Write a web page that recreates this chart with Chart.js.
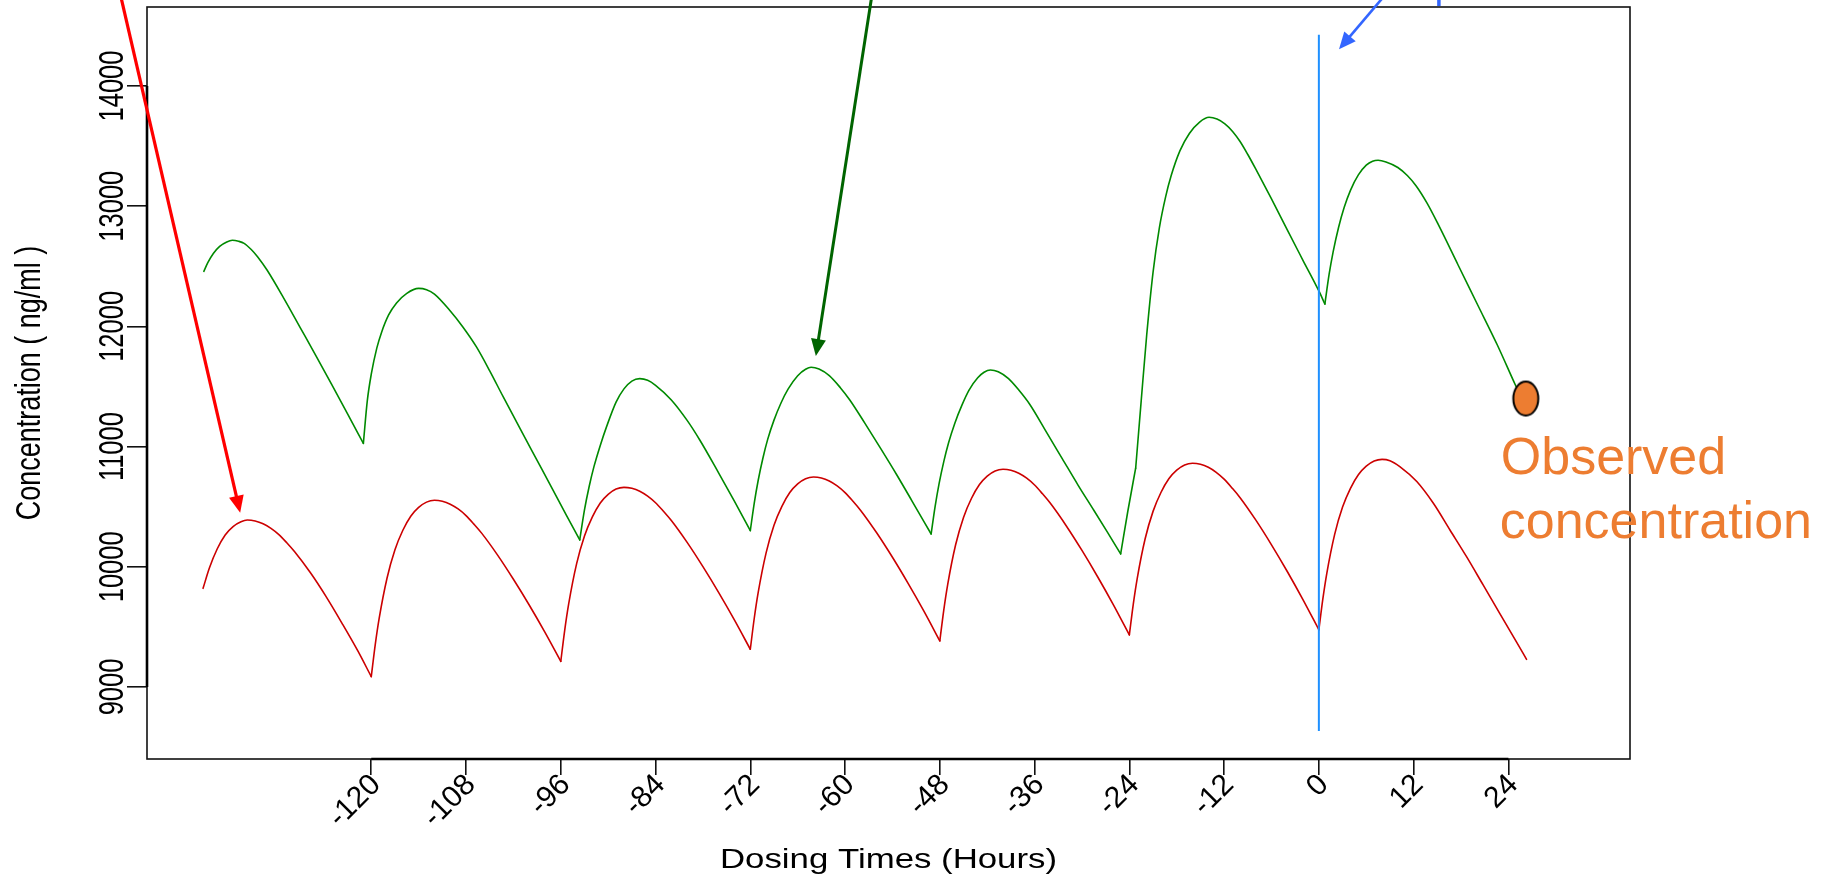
<!DOCTYPE html>
<html>
<head>
<meta charset="utf-8">
<script src="https://cdn.jsdelivr.net/npm/chart.js@4.4.1/dist/chart.umd.min.js"></script>
<style>
  html, body { margin: 0; padding: 0; background: #fff; overflow: hidden; }
  #wrap { width: 1824px; height: 875px; position: relative; }
</style>
</head>
<body>
<div id="wrap"><canvas id="c"></canvas></div>
<script>
// Population-predicted profile (red), hours relative to the last dose
const redHours = [
  -141.3, -140.5, -139.5, -138.5, -137.5, -136.5, -135.7, -134.7, -133.7, -132.7, -131.7, -130.7, -129.7, -127.7, -125.7, -123.7, -121.7,
  -120, -119.5, -119, -118, -117, -116, -115, -114, -113, -112, -111, -110, -109, -108, -107, -106, -104, -102, -100, -98,
  -96, -95.5, -95, -94, -93, -92, -91, -90, -89, -88, -87, -86, -85, -84, -83, -82, -80, -78, -76, -74,
  -72, -71.5, -71, -70, -69, -68, -67, -66, -65, -64, -63, -62, -61, -60, -59, -58, -56, -54, -52, -50,
  -48, -47.5, -47, -46, -45, -44, -43, -42, -41, -40, -39, -38, -37, -36, -35, -34, -32, -30, -28, -26,
  -24, -23.5, -23, -22, -21, -20, -19, -18, -17, -16, -15, -14, -13, -12, -11, -10, -8, -6, -4, -2,
  0, 0.5, 1, 2, 3, 4, 5, 6, 7, 8, 9, 10.25, 12.4, 14.5, 16.6, 18.7, 20.8, 22.9, 25, 26.3
];
const redConc = [
  9821, 9990, 10150, 10265, 10335, 10375, 10389, 10381, 10358, 10320, 10268, 10200, 10125, 9950, 9750, 9530, 9300,
  9086, 9350, 9570, 9907, 10142, 10304, 10421, 10494, 10538, 10553, 10545, 10521, 10481, 10426, 10355, 10278, 10097, 9896, 9682, 9454,
  9213, 9474, 9691, 10024, 10256, 10415, 10531, 10603, 10647, 10661, 10653, 10629, 10588, 10533, 10462, 10385, 10203, 10001, 9785, 9556,
  9314, 9572, 9787, 10116, 10346, 10503, 10618, 10690, 10733, 10747, 10739, 10714, 10673, 10617, 10545, 10467, 10283, 10079, 9860, 9629,
  9383, 9640, 9854, 10183, 10411, 10568, 10682, 10754, 10797, 10811, 10803, 10778, 10737, 10680, 10607, 10528, 10342, 10136, 9915, 9681,
  9433, 9690, 9904, 10233, 10461, 10618, 10732, 10804, 10847, 10861, 10853, 10828, 10786, 10729, 10656, 10577, 10390, 10183, 9961, 9725,
  9476, 9731, 9944, 10270, 10497, 10653, 10766, 10837, 10880, 10894, 10883, 10834, 10709, 10528, 10306, 10084, 9849, 9613, 9378, 9230
];
const redDoseHours = [-120, -96, -72, -48, -24, 0];

// Individual profile at the actual dosing times (green)
const greenHours = [
  -141.2, -140.7, -140.0, -139.2, -138.3, -137.6, -136.8, -136.1, -135.2, -134.4, -133.2, -131, -129, -127, -125, -123,
  -121.0, -120.5, -120.0, -119.3, -118.7, -117.8, -116.8, -115.5, -114.0, -113.0, -112.0, -110.1, -108.4, -106.7, -105.0, -103.3, -101.0, -99.0, -97.0, -95.3,
  -93.6, -93.0, -92.4, -91.8, -91.0, -90.2, -89.0, -88.0, -87.0, -86.0, -85.0, -84.0, -82.0, -80.0, -78.4, -76.0, -74.0,
  -72.0, -71.5, -71.0, -70.4, -69.8, -69.0, -68.1, -67.2, -66.0, -65.0, -64.3, -63.3, -62.0, -60.6, -59.4, -57.5, -55.5, -53.5, -51.5,
  -49.1, -48.6, -48.1, -47.5, -46.9, -46.1, -45.2, -44.3, -43.2, -42.4, -41.6, -40.6, -39.3, -38.0, -36.6, -34.5, -32.5, -30.5, -28.5, -26.8,
  -25.1, -24.2, -23.2, -22.5, -21.8, -21.0, -20.2, -19.4, -18.7, -17.6, -16.4, -15.1, -13.9, -12.9, -11.9, -10.9, -10.0, -9.0, -8.0, -6.0, -4.0, -2.0, 0.0,
  0.76, 1.3, 1.8, 2.5, 3.2, 4.0, 5.0, 6.0, 6.8, 7.5, 8.5, 10.0, 11.2, 12.3, 13.7, 15.1, 17.6, 20.1, 22.6, 24.9, 26.2
];
const greenConc = [
  12458, 12530, 12606, 12665, 12702, 12716, 12708, 12691, 12640, 12580, 12469, 12225, 11990, 11755, 11515, 11272,
  11027, 11382, 11602, 11819, 11950, 12095, 12195, 12275, 12316, 12305, 12268, 12136, 11995, 11831, 11630, 11415, 11130, 10885, 10640, 10430,
  10223, 10473, 10670, 10833, 11010, 11166, 11370, 11480, 11545, 11565, 11552, 11510, 11388, 11218, 11055, 10780, 10545,
  10301, 10530, 10720, 10905, 11060, 11220, 11365, 11480, 11590, 11643, 11660, 11645, 11590, 11490, 11388, 11195, 10985, 10770, 10545,
  10273, 10500, 10690, 10875, 11030, 11195, 11345, 11470, 11572, 11618, 11637, 11622, 11565, 11470, 11350, 11120, 10900, 10680, 10470, 10290,
  10107, 10460, 10820, 11380, 11930, 12450, 12820, 13080, 13255, 13460, 13605, 13700, 13740, 13725, 13685, 13620, 13540, 13430, 13310, 13060, 12802, 12548, 12295,
  12186, 12434, 12618, 12825, 12989, 13132, 13260, 13341, 13374, 13382, 13368, 13322, 13255, 13170, 13025, 12850, 12515, 12180, 11845, 11510, 11330
];
const greenDoseHours = [-121.0, -93.6, -72.0, -49.1, -25.1, -23.2, 0.76];

// Reference line at the last dose
const doseLineHour = [0, 0];
const doseLineConc = [8633, 14426];

// Observed sample
const observedHour = [26.2];
const observedConc = [11400];

// Axis ticks and limits
const xTickHours = [-120, -108, -96, -84, -72, -60, -48, -36, -24, -12, 0, 12, 24];
const yTickConc = [9000, 10000, 11000, 12000, 13000, 14000];
const xLimits = [-148.4, 39.4];
const yLimits = [8401, 14657];

// Callout arrows coming in from labels above the plot (data units)
const pointers = [
  { from: [-152.2, 14882], to: [-136.6, 10450], color: '#FF0000', width: 3.2 },
  { from: [-56.3, 14882], to: [-63.7, 11753], color: '#006400', width: 3.0 },
  { from: [10.0, 14882], to: [2.55, 14305], color: '#3366FF', width: 2.6 }
];

// Cut a profile into dosing intervals so each dose starts a fresh, sharp rise
function splitAtDoses(hours, conc, doses) {
  const bounds = [-Infinity].concat(doses, [Infinity]);
  const parts = [];
  for (let k = 0; k < bounds.length - 1; k++) {
    const pts = [];
    hours.forEach((h, i) => {
      if (h >= bounds[k] && h <= bounds[k + 1]) pts.push({ x: h, y: conc[i] });
    });
    if (pts.length > 1) parts.push(pts);
  }
  return parts;
}
const toPoints = (xs, ys) => xs.map((x, i) => ({ x: x, y: ys[i] }));

// Orange elliptical marker for the observed concentration
function makeMarker() {
  const c = document.createElement('canvas');
  c.width = 30; c.height = 40;
  const g = c.getContext('2d');
  g.beginPath();
  g.ellipse(15, 20, 12.5, 17, 0, 0, Math.PI * 2);
  g.fillStyle = '#ED7D31';
  g.fill();
  g.lineWidth = 2;
  g.strokeStyle = '#000';
  g.stroke();
  return c;
}

const FONT_FAMILY = '"Liberation Sans", Arial, Helvetica, sans-serif';

function drawArrow(ctx, x1, y1, x2, y2, color, width) {
  const ang = Math.atan2(y2 - y1, x2 - x1);
  const headLen = 17, headHalf = 7.5;
  const bx = x2 - headLen * Math.cos(ang), by = y2 - headLen * Math.sin(ang);
  ctx.save();
  ctx.strokeStyle = color;
  ctx.fillStyle = color;
  ctx.lineWidth = width;
  ctx.lineCap = 'butt';
  ctx.beginPath();
  ctx.moveTo(x1, y1);
  ctx.lineTo(bx + 2 * Math.cos(ang), by + 2 * Math.sin(ang));
  ctx.stroke();
  ctx.beginPath();
  ctx.moveTo(x2, y2);
  ctx.lineTo(bx + headHalf * Math.sin(ang), by - headHalf * Math.cos(ang));
  ctx.lineTo(bx - headHalf * Math.sin(ang), by + headHalf * Math.cos(ang));
  ctx.closePath();
  ctx.fill();
  ctx.restore();
}

const overlay = {
  id: 'overlay',
  beforeDraw(chart) {
    const ctx = chart.ctx;
    ctx.save();
    ctx.fillStyle = '#fff';
    ctx.fillRect(0, 0, chart.width, chart.height);
    ctx.restore();
  },
  afterDraw(chart) {
    const ctx = chart.ctx;
    const a = chart.chartArea;
    const xs = chart.scales.x, ys = chart.scales.y;
    ctx.save();

    // plot box
    ctx.strokeStyle = '#111';
    ctx.lineWidth = 1.6;
    ctx.strokeRect(a.left, a.top, a.right - a.left, a.bottom - a.top);

    // axis lines spanning the tick range
    ctx.strokeStyle = '#000';
    ctx.lineWidth = 2.6;
    ctx.beginPath();
    ctx.moveTo(xs.getPixelForValue(xTickHours[0]), a.bottom);
    ctx.lineTo(xs.getPixelForValue(xTickHours[xTickHours.length - 1]), a.bottom);
    ctx.moveTo(a.left, ys.getPixelForValue(yTickConc[0]));
    ctx.lineTo(a.left, ys.getPixelForValue(yTickConc[yTickConc.length - 1]));
    ctx.stroke();

    ctx.fillStyle = '#000';

    // y tick labels, parallel to the axis
    ctx.font = '25.5px ' + FONT_FAMILY;
    yTickConc.forEach(v => {
      ctx.save();
      ctx.translate(a.left - 24, ys.getPixelForValue(v));
      ctx.scale(1.4, 1);
      ctx.rotate(-Math.PI / 2);
      ctx.textAlign = 'center';
      ctx.textBaseline = 'alphabetic';
      ctx.fillText(String(v), 0, 0);
      ctx.restore();
    });

    // x tick labels at 45 degrees
    ctx.font = '30px ' + FONT_FAMILY;
    xTickHours.forEach(v => {
      ctx.save();
      ctx.translate(xs.getPixelForValue(v) + 5, a.bottom + 21);
      ctx.rotate(-Math.PI / 4);
      ctx.textAlign = 'right';
      ctx.textBaseline = 'middle';
      ctx.fillText(String(v), 0, 0);
      ctx.restore();
    });

    // axis titles
    ctx.font = '27.2px ' + FONT_FAMILY;
    ctx.save();
    ctx.translate((a.left + a.right) / 2, a.bottom + 109);
    ctx.scale(1.28, 1);
    ctx.textAlign = 'center';
    ctx.textBaseline = 'alphabetic';
    ctx.fillText('Dosing Times (Hours)', 0, 0);
    ctx.restore();

    ctx.font = '27px ' + FONT_FAMILY;
    ctx.save();
    ctx.translate(a.left - 107, (a.top + a.bottom) / 2);
    ctx.scale(1.28, 1);
    ctx.rotate(-Math.PI / 2);
    ctx.textAlign = 'center';
    ctx.textBaseline = 'alphabetic';
    ctx.fillText('Concentration ( ng/ml )', 0, 0);
    ctx.restore();

    // callout arrows
    pointers.forEach(p => {
      drawArrow(ctx,
        xs.getPixelForValue(p.from[0]), ys.getPixelForValue(p.from[1]),
        xs.getPixelForValue(p.to[0]), ys.getPixelForValue(p.to[1]),
        p.color, p.width);
    });
    // tail of a cropped blue caption at the top edge
    ctx.strokeStyle = '#3366FF';
    ctx.lineWidth = 3.5;
    ctx.beginPath();
    ctx.moveTo(xs.getPixelForValue(15.2), 0);
    ctx.lineTo(xs.getPixelForValue(15.2), 6);
    ctx.stroke();

    // observed concentration caption
    const px = xs.getPixelForValue(observedHour[0]);
    const py = ys.getPixelForValue(observedConc[0]);
    ctx.fillStyle = '#ED7D31';
    ctx.font = '52px ' + FONT_FAMILY;
    ctx.textAlign = 'left';
    ctx.textBaseline = 'alphabetic';
    ctx.fillText('Observed', px - 25, py + 75);
    ctx.fillText('concentration', px - 26, py + 139);

    ctx.restore();
  }
};

Chart.defaults.font.family = FONT_FAMILY;

const curveStyle = {
  borderWidth: 1.6,
  pointRadius: 0,
  cubicInterpolationMode: 'monotone',
  borderJoinStyle: 'round',
  borderCapStyle: 'round'
};

const datasets = [
  {
    label: 'Observed',
    data: toPoints(observedHour, observedConc),
    showLine: false,
    pointStyle: makeMarker(),
    pointRadius: 1,
    order: 0
  },
  {
    label: 'Last dose',
    data: toPoints(doseLineHour, doseLineConc),
    borderColor: '#1E90FF',
    borderWidth: 2,
    pointRadius: 0,
    order: 1
  }
];
splitAtDoses(redHours, redConc, redDoseHours).forEach((pts, k) => {
  datasets.push(Object.assign({ label: 'Population ' + k, data: pts, borderColor: '#CC0000', order: 2 }, curveStyle));
});
splitAtDoses(greenHours, greenConc, greenDoseHours).forEach((pts, k) => {
  datasets.push(Object.assign({ label: 'Individual ' + k, data: pts, borderColor: '#008A00', order: 3 }, curveStyle));
});

new Chart(document.getElementById('c'), {
  type: 'line',
  data: { datasets: datasets },
  options: {
    responsive: true,
    maintainAspectRatio: false,
    animation: false,
    events: [],
    layout: { autoPadding: false, padding: { left: 0, right: 194, top: 7, bottom: 0 } },
    plugins: { legend: { display: false }, tooltip: { enabled: false } },
    scales: {
      x: {
        type: 'linear',
        min: xLimits[0],
        max: xLimits[1],
        afterBuildTicks: s => { s.ticks = xTickHours.map(v => ({ value: v })); },
        afterFit: s => { s.height = 116; },
        ticks: { display: false },
        border: { display: false },
        grid: { drawOnChartArea: false, drawTicks: true, tickLength: 16, color: '#111', lineWidth: 1.6 }
      },
      y: {
        type: 'linear',
        min: yLimits[0],
        max: yLimits[1],
        afterBuildTicks: s => { s.ticks = yTickConc.map(v => ({ value: v })); },
        afterFit: s => { s.width = 147; },
        ticks: { display: false },
        border: { display: false },
        grid: { drawOnChartArea: false, drawTicks: true, tickLength: 20, color: '#111', lineWidth: 1.6 }
      }
    }
  },
  plugins: [overlay]
});
</script>
</body>
</html>
